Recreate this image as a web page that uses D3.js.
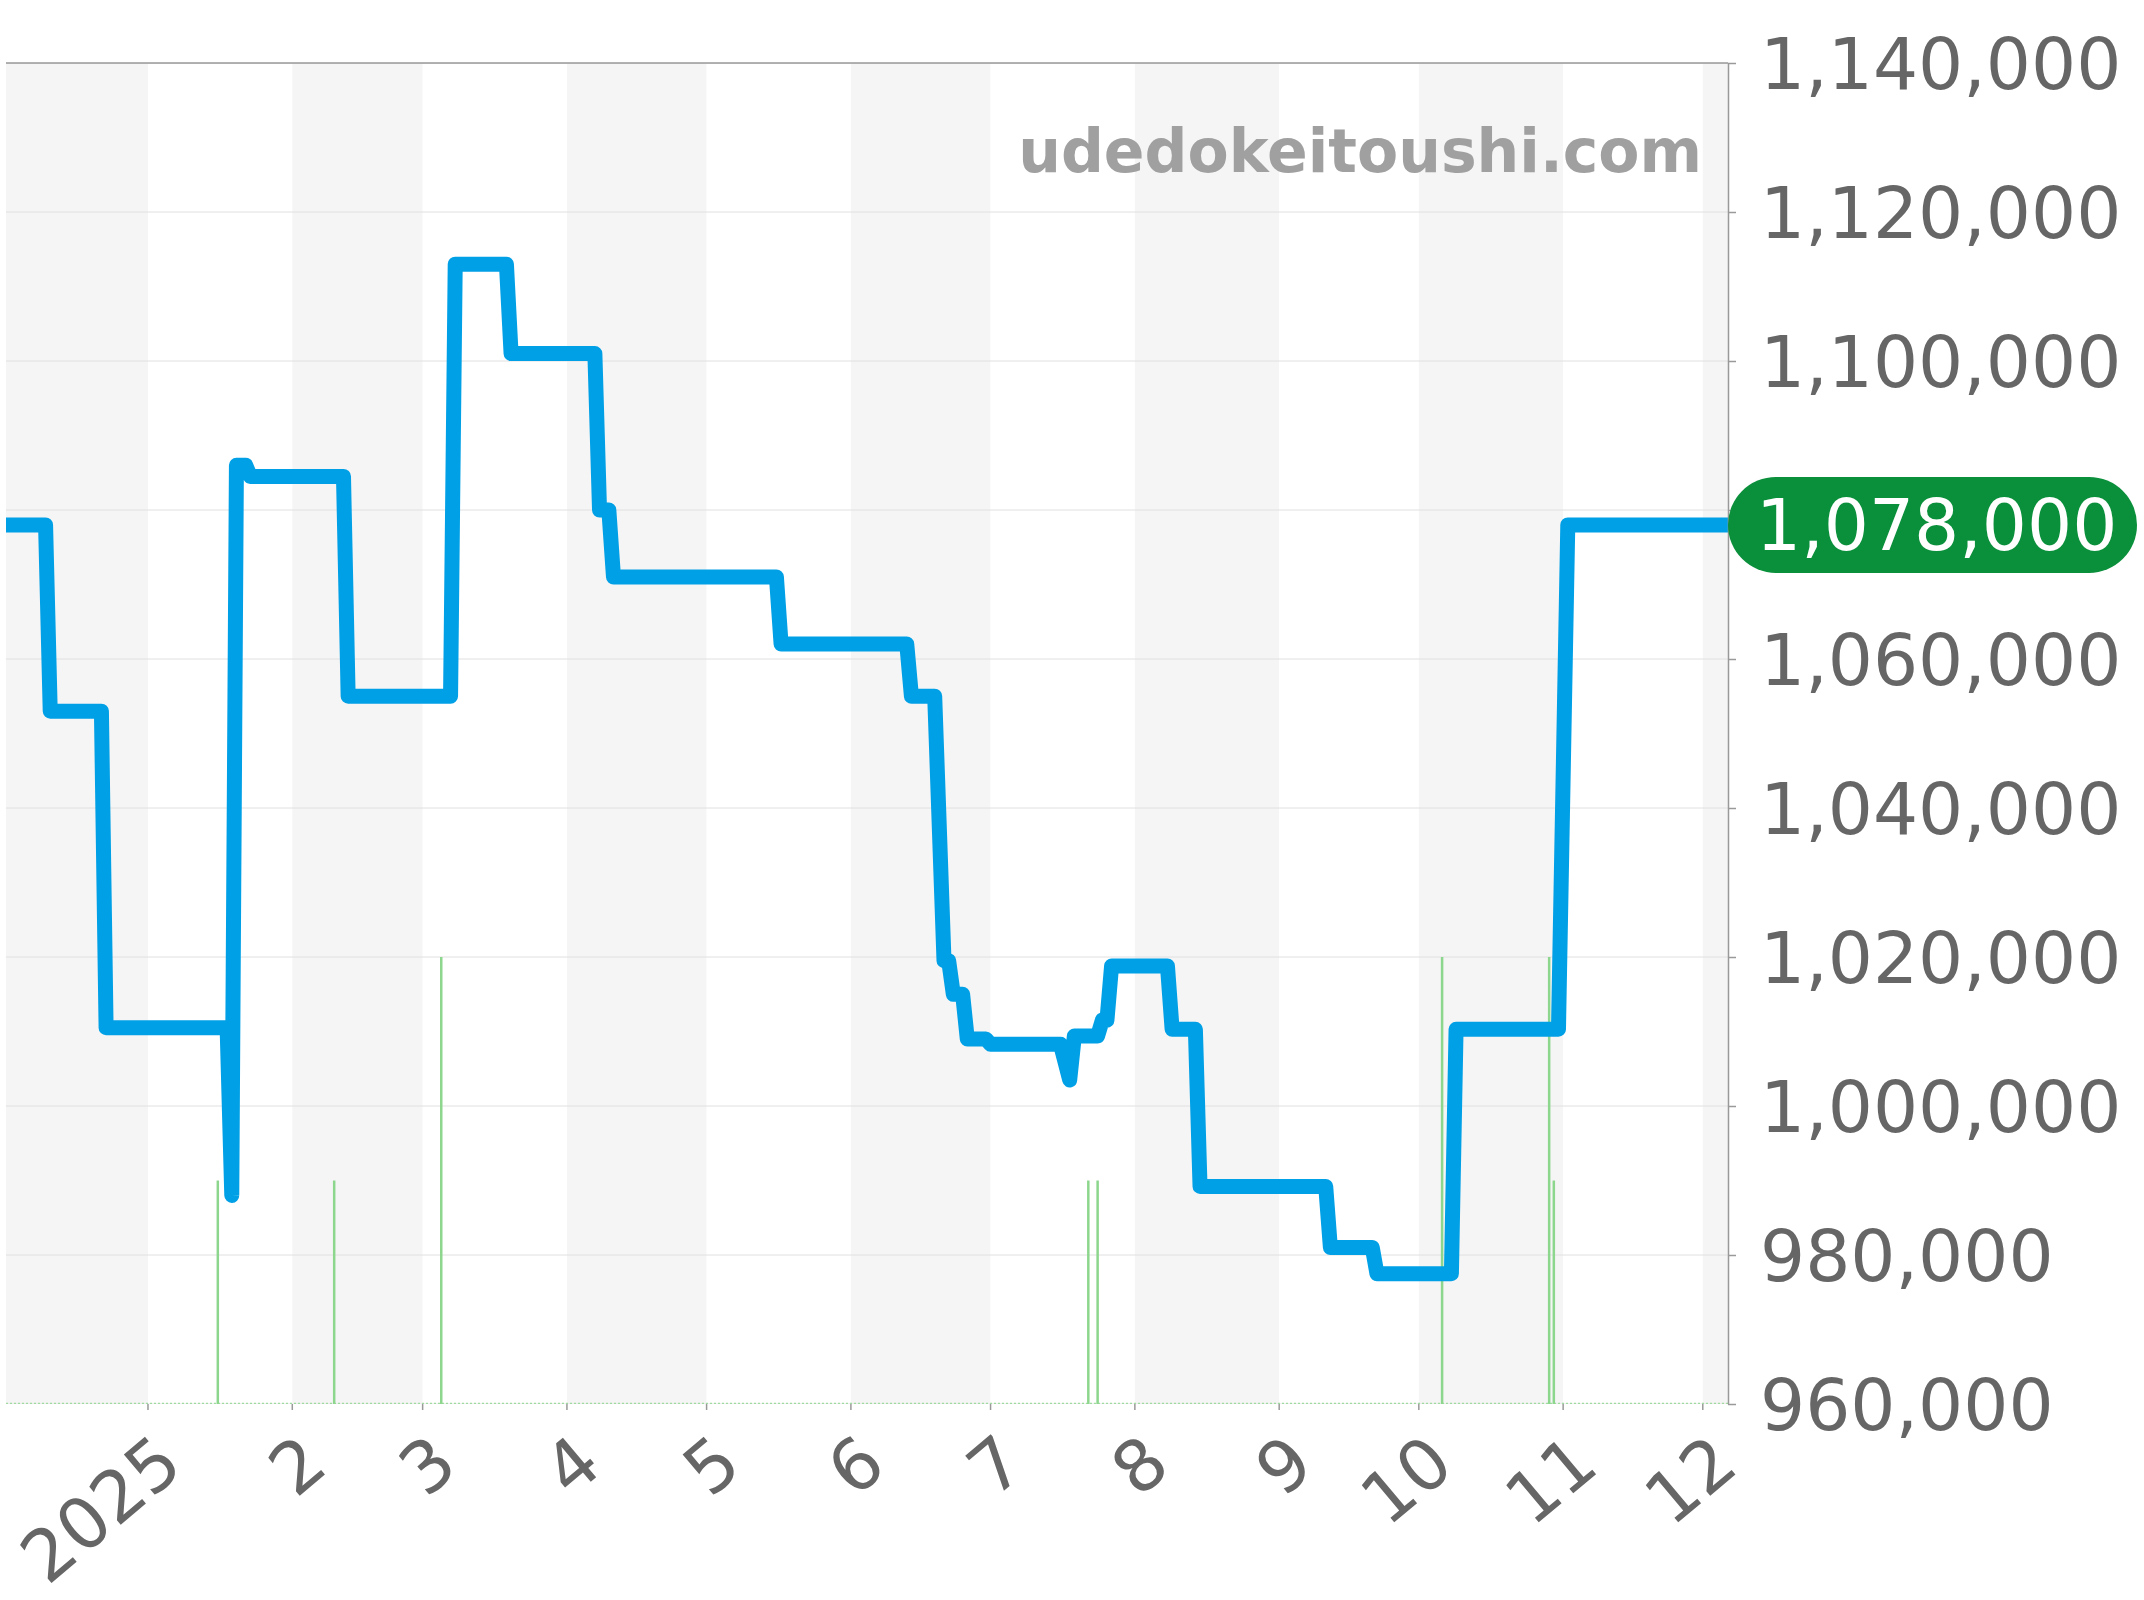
<!DOCTYPE html>
<html>
<head>
<meta charset="utf-8">
<script src="https://cdn.jsdelivr.net/npm/d3@7"></script>
<style>
  html, body { margin: 0; padding: 0; background: #ffffff; }
  svg { display: block; }
  text { font-family: "DejaVu Sans", sans-serif; }
</style>
</head>
<body>
<svg id="chart" width="2144" height="1600"></svg>
<script>
// ---- data ----
const priceDates = [
  "2024-12-01", "2024-12-10", "2024-12-11", "2024-12-22", "2024-12-23",
  "2025-01-18", "2025-01-19", "2025-01-20", "2025-01-22", "2025-01-23",
  "2025-02-12", "2025-02-13", "2025-03-07", "2025-03-08", "2025-03-19",
  "2025-03-20", "2025-04-07", "2025-04-08", "2025-04-10", "2025-04-11",
  "2025-05-16", "2025-05-17", "2025-06-13", "2025-06-14", "2025-06-19",
  "2025-06-21", "2025-06-22", "2025-06-23", "2025-06-25", "2025-06-26",
  "2025-06-30", "2025-07-01", "2025-07-16", "2025-07-18", "2025-07-19",
  "2025-07-24", "2025-07-25", "2025-07-26", "2025-07-27", "2025-08-08",
  "2025-08-09", "2025-08-14", "2025-08-15", "2025-09-11", "2025-09-12",
  "2025-09-21", "2025-09-22", "2025-10-08", "2025-10-09", "2025-10-31",
  "2025-11-02", "2025-12-07"
];
const priceValues = [
  1078000, 1078000, 1053000, 1053000, 1010500,
  1010500, 988000, 1086000, 1086000, 1084500,
  1084500, 1055000, 1055000, 1113000, 1113000,
  1101000, 1101000, 1080000, 1080000, 1071000,
  1071000, 1062000, 1062000, 1055000, 1055000,
  1019500, 1019500, 1015000, 1015000, 1009000,
  1009000, 1008300, 1008300, 1003500, 1009400,
  1009400, 1011500, 1011500, 1018800, 1018800,
  1010300, 1010300, 989200, 989200, 981000,
  981000, 977500, 977500, 1010300, 1010300,
  1078000, 1078000
];
const volumeDates = ["2025-01-16", "2025-02-10", "2025-03-05", "2025-07-22", "2025-07-24", "2025-10-06", "2025-10-29", "2025-10-30"];
const volumeValues = [1, 1, 2, 1, 1, 2, 2, 1];
const yTickValues = [960000, 980000, 1000000, 1020000, 1040000, 1060000, 1080000, 1100000, 1120000, 1140000];
const monthTickLabels = ["2025", "2", "3", "4", "5", "6", "7", "8", "9", "10", "11", "12"];
const currentPrice = 1078000;
const watermark = "udedokeitoushi.com";

// ---- layout ----
const L = 6, R = 1728, T = 63, B = 1404;
const parse = d3.timeParse("%Y-%m-%d");
const svg = d3.select("#chart");

const x = d3.scaleTime()
  .domain([new Date(2024, 11, 1, 12), new Date(2025, 11, 6, 10)])
  .range([L, R]);
const y = d3.scaleLinear().domain([960000, 1140000]).range([B, T]);
const yVol = d3.scaleLinear().domain([0, 6]).range([B, T]);
const fmt = d3.format(",");

svg.append("defs").append("clipPath").attr("id", "plotclip")
  .append("rect").attr("x", L).attr("y", T).attr("width", R - L).attr("height", B - T);

const plot = svg.append("g").attr("clip-path", "url(#plotclip)");

// month bands
const months = d3.timeMonth.range(new Date(2024, 11, 1), new Date(2026, 0, 1));
plot.selectAll("rect.band").data(months).enter().append("rect")
  .attr("class", "band")
  .attr("x", d => x(d))
  .attr("y", T)
  .attr("width", d => x(d3.timeMonth.offset(d, 1)) - x(d))
  .attr("height", B - T)
  .attr("fill", (d, i) => i % 2 === 0 ? "#f5f5f5" : "#ffffff");

// grid lines
plot.selectAll("line.grid").data(yTickValues).enter().append("line")
  .attr("x1", L).attr("x2", R)
  .attr("y1", d => y(d)).attr("y2", d => y(d))
  .attr("stroke", "#e0e0e0").attr("stroke-width", 1);

// volume baseline
plot.append("line")
  .attr("x1", L).attr("x2", R).attr("y1", B - 0.5).attr("y2", B - 0.5)
  .attr("stroke", "#9fdb9f").attr("stroke-width", 1.5).attr("stroke-dasharray", "2,2");

// volume bars
const vol = volumeDates.map((d, i) => ({ date: parse(d), v: volumeValues[i] }));
plot.selectAll("line.vol").data(vol).enter().append("line")
  .attr("x1", d => x(d.date)).attr("x2", d => x(d.date))
  .attr("y1", yVol(0)).attr("y2", d => yVol(d.v))
  .attr("stroke", "#8dd68d").attr("stroke-width", 2.5);

// price line
const price = priceDates.map((d, i) => ({ date: parse(d), v: priceValues[i] }));
const line = d3.line().x(d => x(d.date)).y(d => y(d.v));
plot.append("path").datum(price)
  .attr("d", line)
  .attr("fill", "none")
  .attr("stroke", "#00a0e6")
  .attr("stroke-width", 15)
  .attr("stroke-linejoin", "round");

// watermark
svg.append("text")
  .attr("x", 1702).attr("y", 172)
  .attr("text-anchor", "end")
  .attr("font-size", 60).attr("font-weight", "bold")
  .attr("fill", "#a0a0a0")
  .text(watermark);

// top border
svg.append("line").attr("x1", L).attr("x2", R).attr("y1", T).attr("y2", T)
  .attr("stroke", "#999").attr("stroke-width", 1.5);

// right axis (the label under the current-price badge is hidden, as in the reference)
const cy = y(currentPrice);
const yAxis = d3.axisRight(y).tickValues(yTickValues).tickSize(8).tickSizeOuter(0)
  .tickPadding(24).tickFormat(d => Math.abs(y(d) - cy) < 60 ? "" : fmt(d));
const ya = svg.append("g").attr("transform", `translate(${R},0)`).call(yAxis);
ya.select(".domain").attr("stroke", "#999").attr("stroke-width", 1.5);
ya.selectAll(".tick line").attr("stroke", "#999").attr("stroke-width", 1.5);
ya.selectAll(".tick text").attr("font-size", 71).attr("fill", "#666")
  .attr("font-family", "DejaVu Sans").attr("dy", "0.36em");

// current price badge
svg.append("rect").attr("x", R).attr("y", cy - 48).attr("width", 409).attr("height", 96)
  .attr("rx", 48).attr("ry", 48).attr("fill", "#0a8f3b");
svg.append("text").attr("x", 1756).attr("y", cy).attr("dy", "0.36em")
  .attr("font-size", 71).attr("fill", "#ffffff").text(fmt(currentPrice));

// bottom ticks and labels
const monthTicks = d3.timeMonth.range(new Date(2025, 0, 1), new Date(2025, 11, 2));
const xa = svg.append("g");
xa.selectAll("line").data(monthTicks).enter().append("line")
  .attr("x1", d => x(d)).attr("x2", d => x(d))
  .attr("y1", B).attr("y2", B + 6)
  .attr("stroke", "#999").attr("stroke-width", 1.5);
xa.selectAll("text").data(monthTicks).enter().append("text")
  .attr("text-anchor", "end")
  .attr("transform", d => `translate(${x(d) + 38},${B + 66}) rotate(-40)`)
  .attr("font-size", 71).attr("fill", "#666")
  .text((d, i) => monthTickLabels[i]);
</script>
</body>
</html>
